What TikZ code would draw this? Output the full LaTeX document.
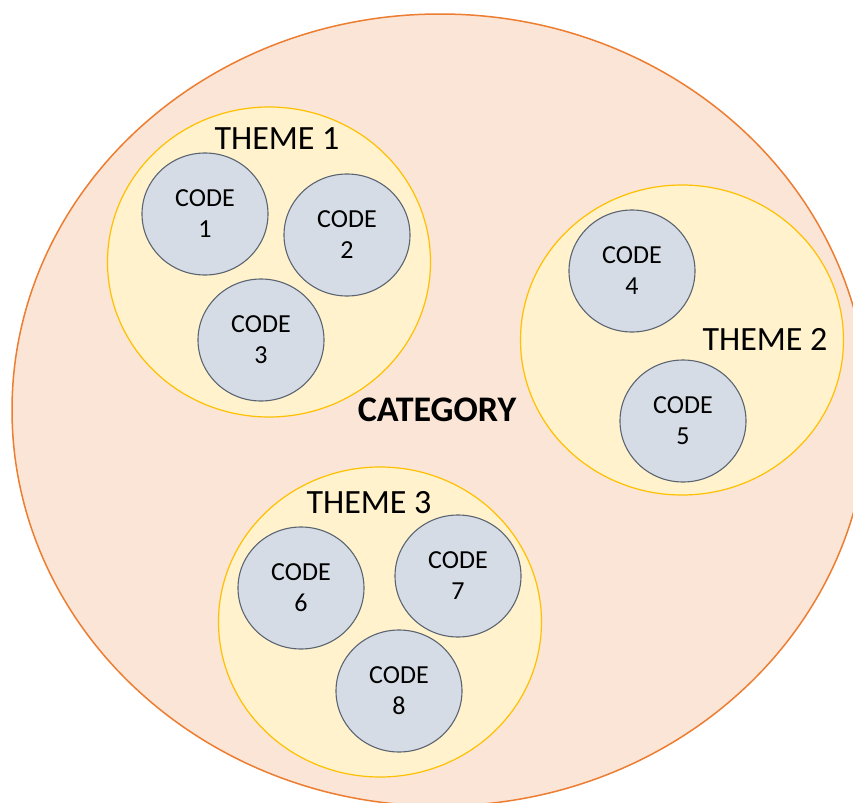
\documentclass[tikz,border=0pt]{standalone}
\usepackage{fontspec}
\setmainfont{Carlito}
\usetikzlibrary{shapes.geometric,positioning}
\definecolor{catfill}{HTML}{FBE5D6}
\definecolor{catline}{HTML}{ED7D31}
\definecolor{themefill}{HTML}{FFF2CC}
\definecolor{themeline}{HTML}{FFC000}
\definecolor{codefill}{HTML}{D6DCE5}
\definecolor{codeline}{HTML}{5B6572}
\tikzstyle{category}=[ellipse, fill=catfill, draw=catline, line width=0.75pt, minimum width=428pt, minimum height=396pt, inner sep=0pt]
\tikzstyle{theme}=[ellipse, fill=themefill, draw=themeline, line width=0.6pt, minimum width=161.5pt, minimum height=155pt, inner sep=0pt]
\tikzstyle{code}=[ellipse, fill=codefill, draw=codeline, line width=0.55pt, minimum width=63pt, minimum height=61pt, inner sep=0pt, align=center, font=\fontsize{13}{15.5}\selectfont]
\tikzstyle{lab}=[font=\fontsize{17}{20}\selectfont]
\begin{document}
\begin{tikzpicture}[x=0.5pt, y=-0.5pt]
        \useasboundingbox (0,0) rectangle (853,803);
        \begin{scope}
        \clip (0,0) rectangle (853,803);
        %
        \node at (440,410) [category] (cat) {};
        \node at (437,410) [lab, font=\fontsize{18}{20}\selectfont\bfseries] (catlab) {CATEGORY};
        %
        \node at (269,262) [theme] (t1) {};
        \node at (277,139) [lab] (t1lab) {THEME 1};
        \node at (205,214) [code] (c1) {CODE\\1};
        \node at (347,235) [code] (c2) {CODE\\2};
        \node at (261,340) [code] (c3) {CODE\\3};
        %
        \node at (682,340) [theme] (t2) {};
        \node at (765,339) [lab] (t2lab) {THEME 2};
        \node at (632,271) [code] (c4) {CODE\\4};
        \node at (683,421) [code] (c5) {CODE\\5};
        %
        \node at (380,622) [theme] (t3) {};
        \node at (369,503) [lab] (t3lab) {THEME 3};
        \node at (301,588) [code] (c6) {CODE\\6};
        \node at (458,576) [code] (c7) {CODE\\7};
        \node at (399,691) [code] (c8) {CODE\\8};
        \end{scope}
      %
      \end{tikzpicture}
\end{document}
